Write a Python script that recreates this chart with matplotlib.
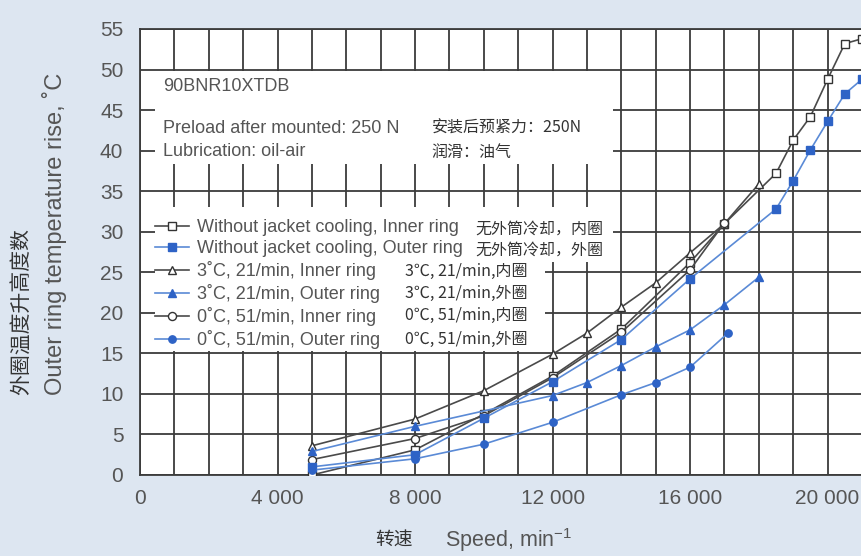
import matplotlib
matplotlib.use("Agg")
import matplotlib.pyplot as plt
from matplotlib.patches import Rectangle
from matplotlib.ticker import MultipleLocator, FuncFormatter

plt.rcParams["font.family"] = ["Liberation Sans", "Noto Sans CJK SC"]
plt.rcParams["mathtext.fontset"] = "custom"
plt.rcParams["mathtext.rm"] = "Liberation Sans"

# Speed (min^-1) and outer ring temperature rise (deg C) per test condition
speed_nojacket_inner = [5000, 8000, 10000, 12000, 14000, 16000, 17000, 18500, 19000, 19500, 20000, 20500, 21000]
temp_nojacket_inner = [0.0, 3.1, 7.5, 12.2, 18.0, 26.2, 31.0, 37.2, 41.3, 44.2, 48.8, 53.2, 53.8]

speed_nojacket_outer = [5000, 8000, 10000, 12000, 14000, 16000, 18500, 19000, 19500, 20000, 20500, 21000]
temp_nojacket_outer = [1.0, 2.5, 7.0, 11.5, 16.7, 24.2, 32.8, 36.3, 40.1, 43.6, 47.0, 48.8]

speed_3c_inner = [5000, 8000, 10000, 12000, 13000, 14000, 15000, 16000, 17000, 18000]
temp_3c_inner = [3.6, 6.9, 10.4, 14.9, 17.5, 20.7, 23.7, 27.4, 31.0, 35.9]

speed_3c_outer = [5000, 8000, 12000, 13000, 14000, 15000, 16000, 17000, 18000]
temp_3c_outer = [2.9, 6.0, 9.8, 11.4, 13.5, 15.8, 17.9, 21.0, 24.4]

speed_0c_inner = [5000, 8000, 10000, 12000, 14000, 16000, 17000]
temp_0c_inner = [1.9, 4.5, 7.3, 12.0, 17.6, 25.3, 31.1]

speed_0c_outer = [5000, 8000, 10000, 12000, 14000, 15000, 16000, 17100]
temp_0c_outer = [0.6, 2.0, 3.8, 6.5, 9.9, 11.4, 13.3, 17.5]

labels_en = [
    "Without jacket cooling, Inner ring",
    "Without jacket cooling, Outer ring",
    "3˚C, 21/min, Inner ring",
    "3˚C, 21/min, Outer ring",
    "0˚C, 51/min, Inner ring",
    "0˚C, 51/min, Outer ring",
]
labels_cn = [
    "无外筒冷却，内圈",
    "无外筒冷却，外圈",
    "3℃, 21/min,内圈",
    "3℃, 21/min,外圈",
    "0℃, 51/min,内圈",
    "0℃, 51/min,外圈",
]

BG = "#dde6f1"
GRID = "#3c3c3c"
TXT = "#555555"
INNER = "#4a4a4a"
OUTER_LINE = "#5a8ad6"
OUTER_MK = "#2e63c6"

fig = plt.figure(figsize=(8.62, 5.56), dpi=100, facecolor=BG)
ax = fig.add_axes([140 / 862, 81 / 556, 722 / 862, 446 / 556])
ax.set_facecolor("white")

series = [
    (speed_nojacket_inner, temp_nojacket_inner, "s", True),
    (speed_nojacket_outer, temp_nojacket_outer, "s", False),
    (speed_3c_inner, temp_3c_inner, "^", True),
    (speed_3c_outer, temp_3c_outer, "^", False),
    (speed_0c_inner, temp_0c_inner, "o", True),
    (speed_0c_outer, temp_0c_outer, "o", False),
]

handles = []
for (x, y, mk, inner), lab in zip(series, labels_en):
    if inner:
        h, = ax.plot(x, y, color=INNER, lw=1.2, marker=mk, ms=5.8,
                     mfc="white", mec="#333333", mew=1.0, label=lab, zorder=3)
    else:
        h, = ax.plot(x, y, color=OUTER_LINE, lw=1.2, marker=mk, ms=5.3,
                     mfc=OUTER_MK, mec=OUTER_MK, label=lab, zorder=4)
    handles.append(h)

ax.set_xlim(0, 21000)
ax.set_ylim(0, 55)
ax.xaxis.set_major_locator(MultipleLocator(4000))
ax.xaxis.set_minor_locator(MultipleLocator(1000))
ax.yaxis.set_major_locator(MultipleLocator(5))
ax.xaxis.set_major_formatter(FuncFormatter(lambda v, p: f"{int(v):,}".replace(",", " ")))
ax.set_axisbelow(True)
ax.grid(which="both", color=GRID, lw=1.3)
ax.tick_params(which="both", length=0, labelsize=15, labelcolor=TXT)
ax.tick_params(axis="x", pad=10)
ax.tick_params(axis="y", pad=12)
for s in ax.spines.values():
    s.set_color(GRID)
    s.set_linewidth(1.3)

# white panels behind the notes and legend
for x0, y0, x1, y1 in [(436, 38.3, 13750, 49.8),
                       (436, 26.3, 13750, 33.0),
                       (436, 15.3, 11770, 26.3)]:
    ax.add_patch(Rectangle((x0, y0), x1 - x0, y1 - y0, facecolor="white",
                           edgecolor="none", zorder=1))

ax.text(0.032, 0.872, "90BNR10XTDB", transform=ax.transAxes, fontsize=13,
        color=TXT, va="center", zorder=5)
ax.text(0.032, 0.778, "Preload after mounted: 250 N", transform=ax.transAxes,
        fontsize=13, color=TXT, va="center", zorder=5)
ax.text(0.032, 0.726, "Lubrication: oil-air", transform=ax.transAxes,
        fontsize=13, color=TXT, va="center", zorder=5)
ax.text(0.404, 0.778, "安装后预紧力：250N", transform=ax.transAxes,
        fontsize=11.5, color="#333333", va="center", zorder=5,
        family=["Noto Sans CJK SC"])
ax.text(0.404, 0.724, "润滑：油气", transform=ax.transAxes,
        fontsize=11.5, color="#333333", va="center", zorder=5,
        family=["Noto Sans CJK SC"])

leg = ax.legend(handles=handles, loc="upper left", bbox_to_anchor=(0.021, 0.574),
                frameon=False, fontsize=13, labelspacing=0.22, handlelength=1.9,
                handletextpad=0.4, borderpad=0, borderaxespad=0)
for t in leg.get_texts():
    t.set_color(TXT)
leg.set_zorder(5)

cn_pos = [(0.464, 0.552), (0.464, 0.505), (0.367, 0.457),
          (0.367, 0.406), (0.367, 0.357), (0.367, 0.305)]
for (px, py), lab in zip(cn_pos, labels_cn):
    ax.text(px, py, lab, transform=ax.transAxes, fontsize=11.5, color="#333333",
            va="center", zorder=5, family=["Noto Sans CJK SC", "DejaVu Sans"])

fig.text(0.0638, 0.29, "Outer ring temperature rise, ˚C", rotation=90,
         ha="center", va="bottom", fontsize=17, color=TXT)
fig.text(0.0255, 0.29, "外圈温度升高度数", rotation=90, ha="center", va="bottom",
         fontsize=15, color="#333333", family=["Noto Sans CJK SC"])
fig.text(0.435, 0.029, "转速", ha="left", va="center", fontsize=13.5,
         color="#333333", family=["Noto Sans CJK SC"])
fig.text(0.516, 0.029, r"Speed, min$^{-1}$", ha="left", va="center",
         fontsize=15.5, color=TXT)

fig.savefig("out.png", dpi=100, facecolor=BG)
